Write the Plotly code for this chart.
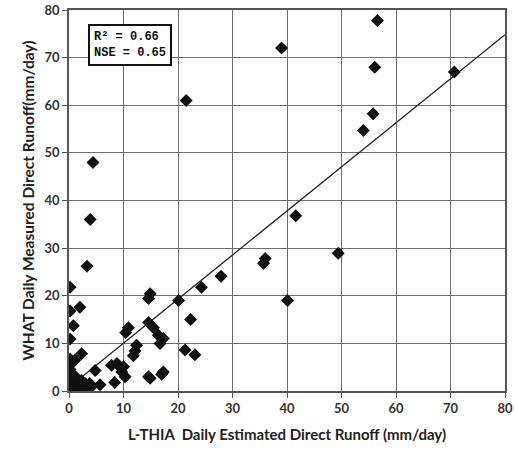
import plotly.graph_objects as go

x_est = [56.6, 56.1, 55.8, 54.0, 70.7, 39.0, 21.5, 4.4, 3.9, 3.3,
         41.6, 36.0, 35.7, 49.4, 40.1, 27.9, 24.3, 20.1, 22.3, 21.3, 23.1,
         14.9, 14.6, 0.2, 0.2, 2.0, 0.8, 0.2,
         10.9, 10.4, 14.6, 15.5, 16.4, 17.3, 16.7,
         12.4, 12.1, 11.8,
         10.0, 9.7, 7.8, 8.8, 9.4, 10.3, 8.4,
         14.9, 14.6, 17.0, 17.3,
         2.3, 0.2, 0.7, 1.1, 0.2, 4.8,
         0.1, 0.3, 0.5, 0.8, 1.0, 1.3, 1.6, 2.0, 2.3, 2.7, 3.0, 3.4, 3.8,
         4.2, 0.2, 0.4, 1.2, 5.7, 0.6, 1.8, 2.5]
y_meas = [77.8, 68.0, 58.2, 54.7, 67.0, 72.0, 61.0, 48.0, 36.0, 26.2,
          36.8, 27.8, 26.8, 28.9, 19.0, 24.1, 21.8, 19.0, 15.0, 8.6, 7.6,
          20.4, 19.4, 21.8, 16.8, 17.6, 13.7, 10.9,
          13.3, 12.3, 14.4, 13.3, 11.7, 11.0, 10.0,
          9.6, 8.4, 7.4,
          5.1, 4.0, 5.4, 5.8, 5.0, 3.0, 1.8,
          2.7, 3.0, 3.5, 4.0,
          7.8, 6.7, 6.1, 6.5, 4.5, 4.3,
          0.3, 1.0, 0.5, 1.5, 2.0, 0.8, 1.8, 1.2, 2.2, 1.0, 1.5, 0.7, 1.6,
          1.0, 2.5, 3.3, 3.0, 1.3, 0.1, 0.4, 0.3]

trend_slope = 0.925
trend_intercept = 0.8
trend_x = [2.5, 80]
trend_y = [trend_slope * v + trend_intercept for v in trend_x]

tick_vals = [0, 10, 20, 30, 40, 50, 60, 70, 80]
x_title = "L-THIA  Daily Estimated Direct Runoff (mm/day)"
y_title = "WHAT Daily Measured Direct Runoff(mm/day)"
stats_text = "R² = 0.66<br>NSE = 0.65"

fig = go.Figure()
fig.add_trace(go.Scatter(x=trend_x, y=trend_y, mode="lines",
                         line=dict(color="#222", width=1.3), hoverinfo="skip"))
fig.add_trace(go.Scatter(x=x_est, y=y_meas, mode="markers",
                         marker=dict(symbol="diamond", size=10, color="#111",
                                     line=dict(width=0))))

axis_common = dict(range=[0, 80], tickvals=tick_vals, showgrid=True,
                   gridcolor="#6e6e6e", gridwidth=1.3, zeroline=False,
                   showline=True, linecolor="#555", linewidth=1.5, mirror=True,
                   ticks="outside", ticklen=5, tickcolor="#555", automargin=False,
                   tickfont=dict(family="Lato", size=13, color="#333", weight="bold"))

fig.update_xaxes(**axis_common,
                 title=dict(text=x_title, standoff=14,
                            font=dict(family="Lato", size=15, color="#222", weight="bold")))
fig.update_yaxes(**axis_common,
                 title=dict(text=y_title, standoff=6,
                            font=dict(family="Lato", size=15.5, color="#222", weight="bold")))

fig.add_annotation(x=11.2, y=72.6, xref="x", yref="y", text=stats_text,
                   showarrow=False, align="left",
                   font=dict(family="Liberation Mono", size=12, color="#111", weight="bold"),
                   bgcolor="white", bordercolor="#111", borderwidth=2, borderpad=4)

fig.update_layout(width=516, height=459, showlegend=False,
                  plot_bgcolor="white", paper_bgcolor="white",
                  margin=dict(l=69, r=11, t=10, b=68))

fig.write_html("out.html")
